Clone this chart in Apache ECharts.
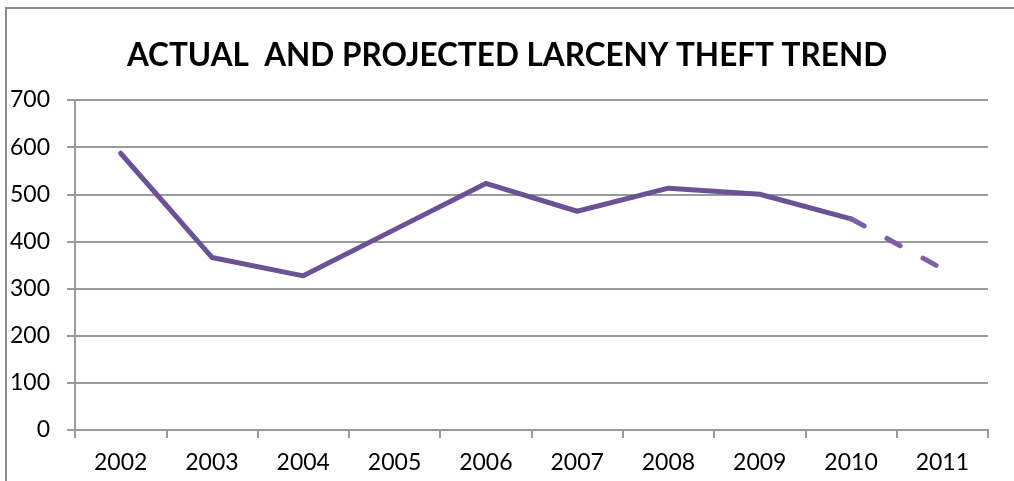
<!DOCTYPE html>
<html>
<head>
<meta charset="utf-8">
<script src="https://cdn.jsdelivr.net/npm/echarts@6/dist/echarts.min.js"></script>
<style>
  html, body { margin: 0; padding: 0; background: #fff; }
  #frame { position: absolute; left: 5px; top: 7px; width: 1020px; height: 490px;
    border-left: 2px solid #8c8c8c; border-top: 2px solid #8c8c8c; }
  #chart { position: absolute; left: 0; top: 0; width: 1014px; height: 481px; }
</style>
</head>
<body>
<div id="frame"></div>
<div id="chart"></div>
<script>
const years = ['2002', '2003', '2004', '2005', '2006', '2007', '2008', '2009', '2010', '2011']
const actual = [587, 366, 327, 425, 523, 464, 513, 500, 448, null]
const projected = [null, null, null, null, null, null, null, null, 448, 342]
const yTicks = [0, 700, 100] // min, max, step

const font = 'Lato'
let chart = echarts.init(document.getElementById('chart'))
chart.setOption({
  animation: false,
  title: {
    text: 'ACTUAL  AND PROJECTED LARCENY THEFT TREND',
    left: 'center',
    top: 35,
    textStyle: { fontFamily: font, fontWeight: 'bold', fontSize: 31.5, color: '#000' }
  },
  grid: { left: 75, right: 26, top: 100, bottom: 51 },
  xAxis: {
    type: 'category',
    data: years,
    boundaryGap: true,
    axisLine: { lineStyle: { color: '#9a9a9a', width: 2 } },
    axisTick: { show: true, length: 8, lineStyle: { color: '#9a9a9a', width: 2 } },
    axisLabel: { fontFamily: font, fontSize: 23, color: '#000', margin: 21 }
  },
  yAxis: {
    type: 'value',
    min: yTicks[0],
    max: yTicks[1],
    interval: yTicks[2],
    axisLine: { show: true, lineStyle: { color: '#9a9a9a', width: 2 } },
    axisTick: { show: true, length: 8, lineStyle: { color: '#9a9a9a', width: 2 } },
    splitLine: { lineStyle: { color: '#9a9a9a', width: 2 } },
    axisLabel: { fontFamily: font, fontSize: 23, color: '#000', margin: 25 }
  },
  series: [
    {
      name: 'Actual',
      type: 'line',
      data: actual,
      showSymbol: false,
      lineStyle: { color: '#6a5294', width: 5, cap: 'round', join: 'round' }
    },
    {
      name: 'Projected',
      type: 'line',
      data: projected,
      showSymbol: false,
      lineStyle: { color: '#7c60a6', width: 5, type: [15, 26], cap: 'round' }
    }
  ]
})
</script>
</body>
</html>
